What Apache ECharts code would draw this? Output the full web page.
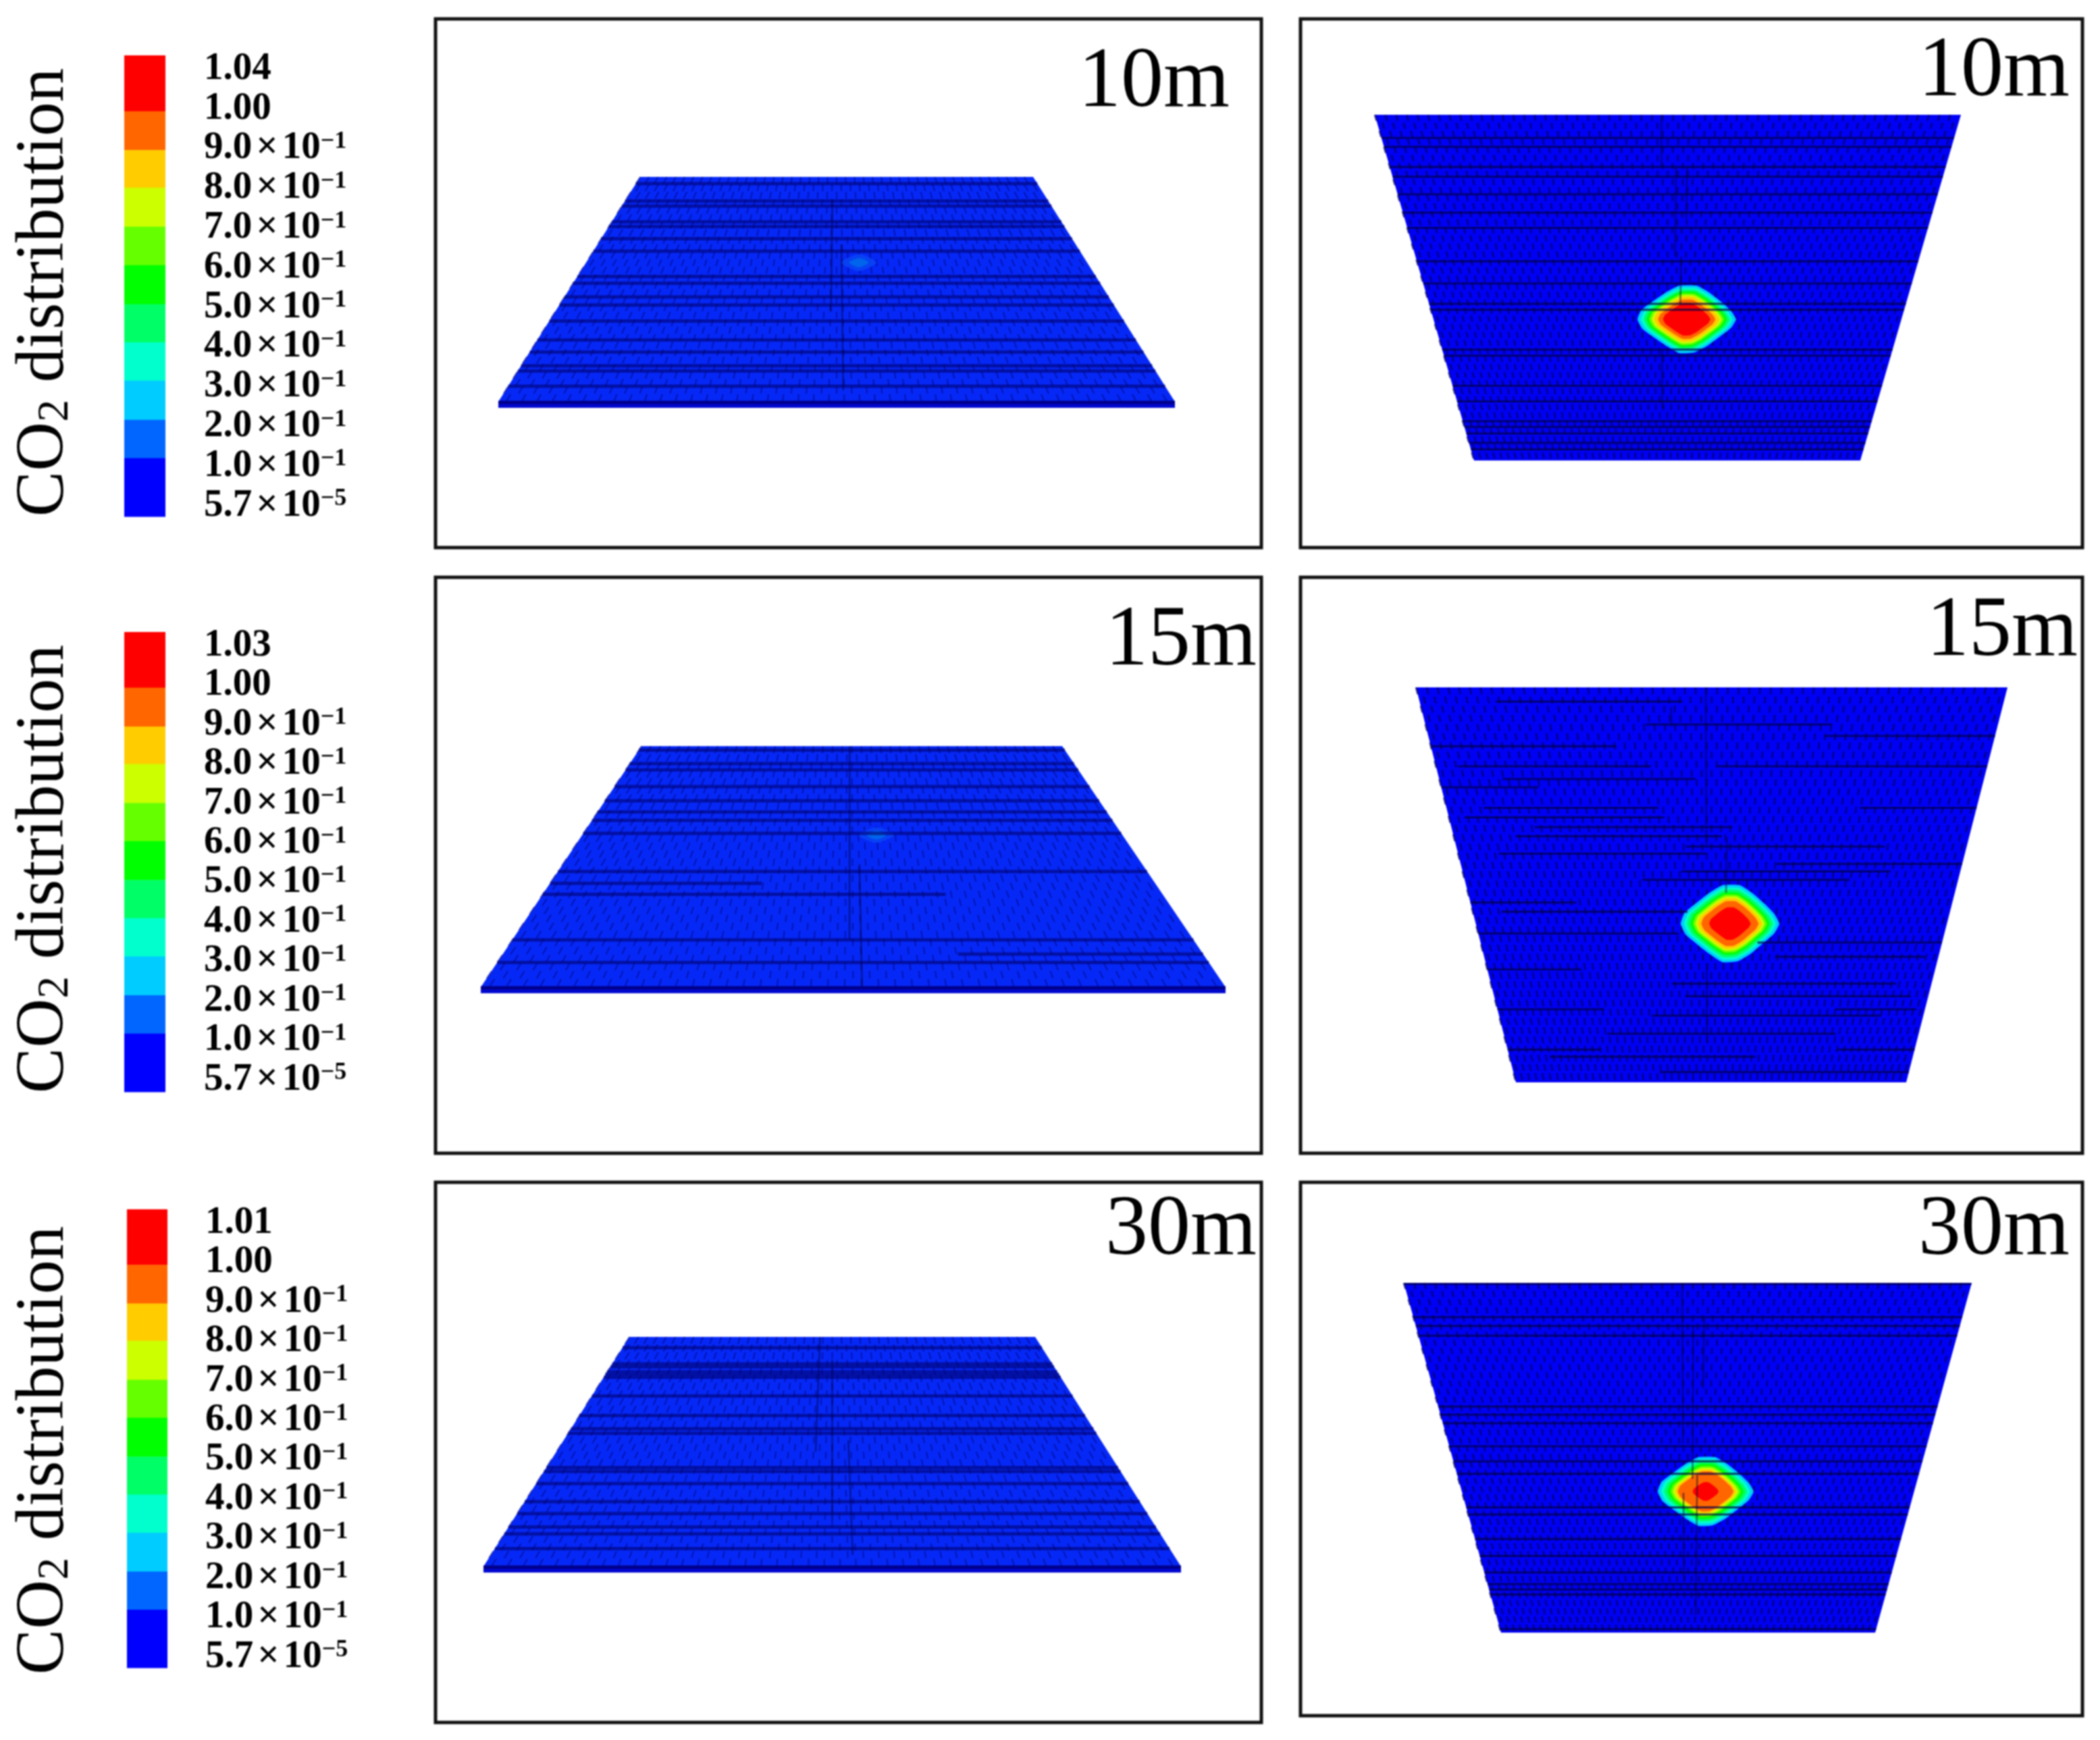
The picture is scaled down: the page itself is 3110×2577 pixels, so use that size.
<!DOCTYPE html>
<html>
<head>
<meta charset="utf-8">
<style>html,body{margin:0;padding:0;background:#fff}#c{width:3110px;height:2577px;filter:blur(1px)}</style>
<script src="https://cdn.jsdelivr.net/npm/echarts@6/dist/echarts.min.js"></script>
</head>
<body>
<div id="c"></div>
<script>
// ---------- DATA ----------
const depthLabels = ['10m','10m','15m','15m','30m','30m'];
const depthLabelAnchors = [[1821,187],[3065,171],[1861,1014],[3077,1000],[1861,1887],[3065,1887]];
const frameBoxes = [[645,28,1868,811],[1926,28,3084,811],[645,855,1868,1708],[1926,855,3084,1708],[645,1751,1868,2551],[1926,1751,3084,2541]];
// plate corners: top y, top-left x, top-right x, bottom y, bottom-left x, bottom-right x
const plateCorners = [
  [262,948,1530,595,738,1740],
  [170,2036,2904,682,2183,2755],
  [1105,950,1573,1462,712,1815],
  [1018,2097,2973,1603,2245,2823],
  [1980,932,1533,2320,716,1749],
  [1900,2079,2920,2418,2223,2777]
];
// mesh lines as [v, u0, u1], fractions across each plate
const rowsA = [[.03],[.107],[.13],[.2],[.221],[.275],[.33],[.443],[.473],[.534],[.57],[.641],[.725],[.779],[.84],[.863],[.931]];
const rowsB = [[.067],[.093],[.151],[.179],[.23],[.283],[.327],[.424],[.488],[.547],[.564],[.679],[.697],[.784],[.829],[.886],[.903],[.922],[.949],[.968]];
const rowsC = [[.017],[.073],[.099],[.168],[.227],[.273],[.308],[.362],[.52],[.569,0,.35],[.615,0,.65],[.804],[.863,.65,1],[.898]];
const rowsD = [[.036,.13,.45],[.094,.385,.71],[.123,.7,1],[.149,0,.33],[.2,.04,.39],[.2,.51,1],[.232,.116,.47],[.253,0,.18],[.305,.07,.4],[.305,.78,1],[.329,.03,.41],[.354,.16,.54],[.377,.12,.52],[.403,.45,.84],[.421,.08,.49],[.447,.63,1],[.466,.44,.86],[.487,.36,.78],[.545,0,.22],[.568,.06,.45],[.623,0,.43],[.646,.6,1],[.682,.64,.97],[.714,0,.21],[.75,.41,.92],[.782,.44,.96],[.815,0,.25],[.815,.79,.98],[.831,.36,.9],[.877,.25,.8],[.917,0,.23],[.917,.81,1],[.935,.1,.61],[.974,.37,1]];
const rowsE = [[.047],[.118],[.13],[.152],[.165],[.176],[.257],[.343],[.4],[.42],[.569],[.586],[.639],[.718],[.77],[.828],[.858],[.922]];
const rowsF = [[.003],[.098],[.123],[.151],[.354],[.377],[.401],[.467],[.51],[.546],[.642],[.662],[.732],[.781],[.828],[.861],[.877],[.891],[.99]];
const plateRows = [rowsA,rowsB,rowsC,rowsD,rowsE,rowsF];
// long mesh verticals as [u, v0, v1]
const longLinesA = [[.49,.1,.6],[.51,.3,.95]];
const longLinesB = [[.489,0,.15],[.515,.15,.41],[.535,.15,.3],[.527,.41,.55],[.488,.68,.85]];
const longLinesC = [[.495,0,.8],[.512,.49,1]];
const longLinesD = [[.49,0,.4],[.43,.05,.1],[.53,.38,.52],[.49,.7,.9]];
const longLinesE = [[.47,0,.5],[.5,.1,.8],[.53,.45,.95]];
const longLinesF = [[.49,0,.46],[.51,.12,.56],[.53,.1,.3],[.49,.6,.85],[.52,.55,.95]];
const plateLongLines = [longLinesA,longLinesB,longLinesC,longLinesD,longLinesE,longLinesF];
// CO2 plumes: centre, half extents, then the extent of each contour level
const plumePlate = [1,3,5];
const plumeCentres = [[2498,473],[2562,1368],[2526,2209]];
const plumeHalfSizes = [[73,50],[73,57],[71,51]];
const plumeLevelColours = ['#00ccff','#00ffcc','#00ff66','#00ff00','#66ff00','#ccff00','#ffcc00','#ff6600','#ff0000'];
const plumeLevelsA = [1,.93,.87,.81,.76,.71,.66,.58,.48];
const plumeLevelsB = [1,.93,.87,.8,.75,.7,.65,.58,.42];
const plumeLevelsC = [1,.93,.86,.79,.73,.68,.63,.58,.27];
const plumeLevels = [plumeLevelsA,plumeLevelsB,plumeLevelsC];
const plumeOutline = [[1,0],[.9,.25],[.68,.5],[.42,.78],[.15,.98],[-.15,1],[-.42,.78],[-.68,.52],[-.9,.28],[-1,0],[-.92,-.28],[-.7,-.52],[-.42,-.8],[-.15,-1],[.2,-1],[.45,-.8],[.7,-.52],[.9,-.25]];
// faint traces in the oblique views
const faintCentres = [[1272,389],[1298,1237]];
const faintHalfSizes = [[26,12],[26,11]];
// colour legends
const legendColours = ['#ff0000','#ff6600','#ffcc00','#ccff00','#66ff00','#00ff00','#00ff66','#00ffcc','#00ccff','#0066ff','#0000ff'];
const legendEdges = [0,.121,.2055,.287,.3717,.4548,.5394,.6224,.7055,.7901,.8732,1];
const legendBoxes = [[184,82,245,765],[184,936,245,1617],[188,1791,248,2470]];
const legendLabelSpans = [[302,102,749],[302,956,1599],[304,1811,2454]];
const legendMaxima = ['1.04','1.03','1.01'];
const tickMantissas = ['1.00','9.0','8.0','7.0','6.0','5.0','4.0','3.0','2.0','1.0','5.7'];
const tickExponents = ['','−1','−1','−1','−1','−1','−1','−1','−1','−1','−5'];
const titleAnchors = [[66,433],[66,1287],[66,2148]];

// ---------- DRAWING ----------
echarts.graphic.registerShape('segments', echarts.graphic.extendShape({
  type: 'segments',
  shape: { segs: [] },
  style: { fill: null },
  buildPath(ctx, s) {
    for (const g of s.segs) { ctx.moveTo(g[0], g[1]); ctx.lineTo(g[2], g[3]); }
  }
}));
const SERIF = '"Liberation Serif","Times New Roman",serif';
const chart = echarts.init(document.getElementById('c'), null, { renderer: 'canvas', width: 3110, height: 2577 });

function plateSeries() {
  return {
    type: 'custom', coordinateSystem: 'cartesian2d', silent: true,
    data: plateCorners.map((c, i) => [c[1], c[0], i]),
    encode: { x: 0, y: 1 },
    renderItem(params, api) {
      const i = api.value(2);
      const [ty, tl, tr, by, bl, br] = plateCorners[i];
      const oblique = i % 2 === 0;
      const uv = (u, v) => {
        const l = tl + (bl - tl) * v, r = tr + (br - tr) * v;
        return api.coord([l + (r - l) * u, ty + (by - ty) * v]);
      };
      const kids = [];
      if (oblique) {
        kids.push({ type: 'polygon', shape: { points: [[bl, by], [br, by], [br, by + 9], [bl, by + 9]].map(p => api.coord(p)) }, style: { fill: '#0008d0' } });
      }
      kids.push({ type: 'polygon', shape: { points: [uv(0, 0), uv(1, 0), uv(1, 1), uv(0, 1)] }, style: { fill: oblique ? '#0628f6' : '#0000f4' } });
      // staggered mesh ticks
      const cols = oblique ? 44 : 55, rows = oblique ? 30 : 43, dash = oblique ? .9 : .75;
      const ticks = [];
      for (let k = 0; k <= cols; k++) for (let j = 0; j < rows; j++) {
        const u = (k + (j % 2) * .5) / cols;
        if (u >= 1) continue;
        const a = uv(u, j / rows), b = uv(u, (j + dash) / rows);
        ticks.push([a[0], a[1], b[0], b[1]]);
      }
      kids.push({ type: 'segments', shape: { segs: ticks }, style: { fill: null, stroke: oblique ? 'rgba(0,0,110,0.5)' : 'rgba(0,0,90,0.68)', lineWidth: oblique ? 2 : 2.8 } });
      // plumes
      faintCentres.forEach((c, k) => {
        if (k * 2 !== i || i > 2) return;
        [1, .55].forEach((s, m) => kids.push({
          type: 'polygon',
          shape: { points: plumeOutline.map(p => api.coord([c[0] + p[0] * faintHalfSizes[k][0] * s, c[1] + p[1] * faintHalfSizes[k][1] * s])), smooth: .4 },
          style: { fill: m ? '#0064ec' : '#0840f4' }
        }));
      });
      const pk = plumePlate.indexOf(i);
      if (pk >= 0) {
        const c = plumeCentres[pk], h = plumeHalfSizes[pk];
        plumeLevels[pk].forEach((s, m) => kids.push({
          type: 'polygon',
          shape: { points: plumeOutline.map(p => api.coord([c[0] + p[0] * h[0] * s, c[1] + p[1] * h[1] * s])), smooth: .15 },
          style: { fill: plumeLevelColours[m] }
        }));
      }
      const longs = plateLongLines[i].map(l => { const a = uv(l[0], l[1]), b = uv(l[0], l[2]); return [a[0], a[1], b[0], b[1]]; });
      kids.push({ type: 'segments', shape: { segs: longs }, style: { fill: null, stroke: 'rgba(0,0,60,0.5)', lineWidth: 2.5 } });
      const rowSegs = plateRows[i].map(r => {
        const a = uv(r.length > 1 ? r[1] : 0, r[0]), b = uv(r.length > 1 ? r[2] : 1, r[0]);
        return [a[0], a[1], b[0], b[1]];
      });
      kids.push({ type: 'segments', shape: { segs: rowSegs }, style: { fill: null, stroke: oblique ? 'rgba(0,0,110,0.6)' : 'rgba(0,0,70,0.75)', lineWidth: oblique ? 5 : 3 } });
      if (oblique) {
        const a = api.coord([bl, by + 1]), b = api.coord([br, by + 1]);
        kids.push({ type: 'line', shape: { x1: a[0], y1: a[1], x2: b[0], y2: b[1] }, style: { stroke: '#00008a', lineWidth: 5 } });
      }
      return { type: 'group', children: kids };
    }
  };
}

function frameSeries() {
  return {
    type: 'custom', coordinateSystem: 'cartesian2d', silent: true,
    data: frameBoxes.map(b => [b[0], b[1], b[2], b[3]]),
    encode: { x: [0, 2], y: [1, 3] },
    renderItem(params, api) {
      const a = api.coord([api.value(0), api.value(1)]), b = api.coord([api.value(2), api.value(3)]);
      return { type: 'rect', shape: { x: a[0], y: a[1], width: b[0] - a[0], height: b[1] - a[1] }, style: { fill: null, stroke: '#111', lineWidth: 5 } };
    }
  };
}

function depthSeries() {
  return {
    type: 'custom', coordinateSystem: 'cartesian2d', silent: true,
    data: depthLabelAnchors.map((p, i) => [p[0], p[1], i]),
    encode: { x: 0, y: 1 },
    renderItem(params, api) {
      const p = api.coord([api.value(0), api.value(1)]);
      return { type: 'text', x: p[0], y: p[1], style: { text: depthLabels[api.value(2)], fill: '#000', font: '126px ' + SERIF, textAlign: 'right', textVerticalAlign: 'bottom' } };
    }
  };
}

function legendBarSeries() {
  const cells = [];
  legendBoxes.forEach((b, g) => legendColours.forEach((c, k) => cells.push([b[0], b[1] + (b[3] - b[1]) * legendEdges[k], b[2], b[1] + (b[3] - b[1]) * legendEdges[k + 1], k])));
  return {
    type: 'custom', coordinateSystem: 'cartesian2d', silent: true, data: cells,
    encode: { x: [0, 2], y: [1, 3] },
    renderItem(params, api) {
      const a = api.coord([api.value(0), api.value(1)]), b = api.coord([api.value(2), api.value(3)]);
      return { type: 'rect', shape: { x: a[0], y: a[1], width: b[0] - a[0], height: b[1] - a[1] + .5 }, style: { fill: legendColours[api.value(4)] } };
    }
  };
}

function tickSeries() {
  const items = [];
  legendLabelSpans.forEach((s, g) => {
    const n = tickMantissas.length + 1;
    for (let k = 0; k < n; k++) items.push([s[0], s[1] + (s[2] - s[1]) * k / (n - 1), g, k]);
  });
  return {
    type: 'custom', coordinateSystem: 'cartesian2d', silent: true, data: items,
    encode: { x: 0, y: 1 },
    renderItem(params, api) {
      const p = api.coord([api.value(0), api.value(1)]);
      const g = api.value(2), k = api.value(3);
      let text;
      if (k === 0) text = '{a|' + legendMaxima[g] + '}';
      else if (k === 1) text = '{a|' + tickMantissas[0] + '}';
      else text = '{a|' + tickMantissas[k - 1] + '}{x|×}{a|10}{s|' + tickExponents[k - 1] + '}';
      return {
        type: 'text', x: p[0], y: p[1],
        style: {
          text, textAlign: 'left', textVerticalAlign: 'middle',
          rich: {
            a: { font: 'bold 57px ' + SERIF, fill: '#000', lineHeight: 56 },
            x: { font: 'bold 57px ' + SERIF, fill: '#000', lineHeight: 56, padding: [0, 6, 0, 6] },
            s: { font: 'bold 36px ' + SERIF, fill: '#000', lineHeight: 36, verticalAlign: 'top' }
          }
        }
      };
    }
  };
}

function titleSeries() {
  return {
    type: 'custom', coordinateSystem: 'cartesian2d', silent: true,
    data: titleAnchors.map(p => [p[0], p[1]]),
    encode: { x: 0, y: 1 },
    renderItem(params, api) {
      const p = api.coord([api.value(0), api.value(1)]);
      return {
        type: 'text', x: p[0], y: p[1], rotation: Math.PI / 2,
        style: {
          text: '{a|CO}{s|2}{a| distribution}', textAlign: 'center', textVerticalAlign: 'middle',
          rich: {
            a: { font: '101px ' + SERIF, fill: '#000', lineHeight: 100 },
            s: { font: '66px ' + SERIF, fill: '#000', lineHeight: 66, verticalAlign: 'bottom' }
          }
        }
      };
    }
  };
}

chart.setOption({
  animation: false,
  backgroundColor: '#fff',
  grid: { left: 0, right: 0, top: 0, bottom: 0, containLabel: false },
  xAxis: { type: 'value', min: 0, max: 3110, show: false },
  yAxis: { type: 'value', min: 0, max: 2577, inverse: true, show: false },
  series: [plateSeries(), frameSeries(), depthSeries(), legendBarSeries(), tickSeries(), titleSeries()]
});
</script>
</body>
</html>
